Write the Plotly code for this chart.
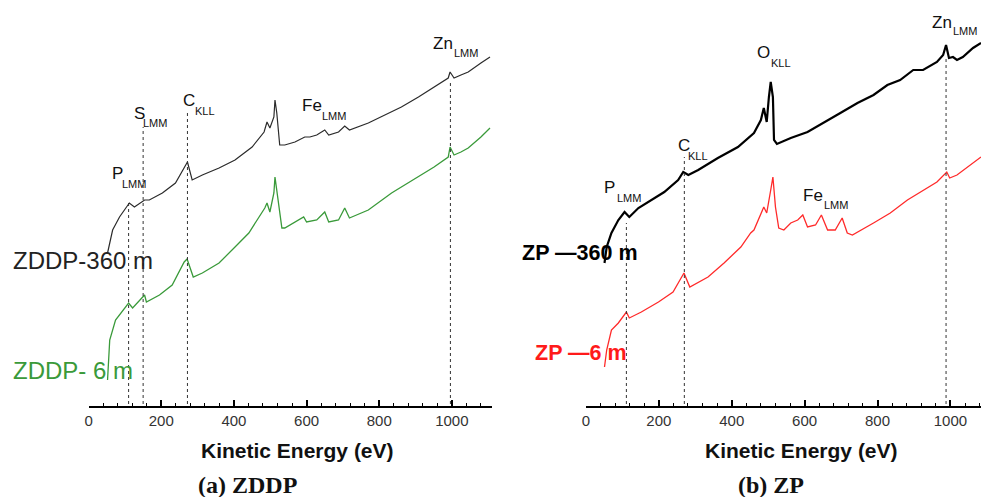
import plotly.graph_objects as go

# ---------------- data (kinetic energy in eV, intensity in arbitrary units) ----------------
zddp360_e = [52, 66, 85, 112, 126, 154, 167, 203, 239, 258, 272, 285, 313, 359, 403, 450, 483, 491, 499,
             510, 513, 518, 526, 540, 568, 595, 609, 628, 650, 661, 688, 705, 718, 770, 814, 861, 908, 951,
             990, 995, 1006, 1025, 1045, 1080, 1105]
zddp360_i = [153, 176, 189, 203, 199, 206, 206, 213, 223, 236, 244, 226, 231, 238, 246, 259, 274, 284, 278,
             289, 306, 293, 261, 261, 264, 269, 269, 271, 276, 271, 274, 280, 276, 283, 291, 299, 309, 319,
             328, 334, 328, 331, 334, 343, 349]

zddp6_e = [52, 55, 58, 74, 110, 121, 154, 159, 195, 230, 263, 271, 288, 313, 359, 403, 441, 485, 491, 499,
           510, 513, 521, 532, 540, 568, 592, 600, 628, 650, 661, 688, 705, 718, 770, 834, 908, 951, 990,
           995, 1006, 1025, 1045, 1080, 1105]
zddp6_i = [26, 44, 66, 86, 103, 98, 111, 104, 111, 121, 144, 147, 129, 133, 143, 159, 173, 198, 203, 194,
           213, 229, 206, 178, 178, 184, 189, 184, 186, 194, 184, 186, 198, 188, 196, 213, 229, 239, 249,
           259, 251, 254, 258, 269, 278]

zp360_e = [51, 57, 70, 89, 106, 119, 144, 180, 215, 253, 267, 281, 308, 362, 417, 461, 480, 488, 496, 502,
           507, 513, 516, 524, 562, 608, 652, 698, 745, 789, 827, 862, 898, 925, 963, 980, 988, 996, 1007,
           1018, 1034, 1062, 1084]
zp360_i = [143, 159, 173, 186, 194, 189, 198, 206, 214, 226, 234, 231, 236, 248, 259, 273, 286, 298, 284, 309,
           324, 309, 266, 262, 268, 274, 283, 293, 303, 311, 321, 326, 336, 336, 344, 351, 361, 348, 349,
           346, 349, 358, 363]

zp6_e = [51, 57, 70, 89, 111, 119, 152, 199, 239, 269, 285, 335, 379, 425, 452, 461, 488, 496, 507, 513, 520,
         529, 543, 562, 581, 595, 608, 630, 646, 663, 684, 703, 717, 731, 789, 835, 882, 925, 963, 990, 998,
         1018, 1045, 1084]
zp6_i = [39, 56, 76, 83, 94, 88, 94, 104, 114, 133, 119, 129, 143, 159, 173, 176, 199, 193, 216, 229, 199,
         178, 176, 183, 186, 191, 179, 181, 191, 176, 176, 188, 173, 171, 183, 193, 206, 216, 224, 234, 228,
         231, 238, 249]

# peak markers: energy and top of dotted line
left_peak_e = [110, 150, 272, 996]
left_peak_top = [203, 279, 296, 326]
right_peak_e = [111, 270, 988]
right_peak_top = [183, 249, 349]

# peak labels: element, transition, (x, y) of element and of subscript
left_labels = [("P", "LMM", 80, 233, 126, 222), ("S", "LMM", 140, 293, 184, 283),
               ("C", "KLL", 277, 306, 321, 295), ("Fe", "LMM", 614, 301, 675, 290),
               ("Zn", "LMM", 976, 363, 1039, 353)]
right_labels = [("P", "LMM", 65, 219, 117, 208), ("C", "KLL", 270, 261, 308, 250),
                ("O", "KLL", 488, 354, 535, 343), ("Fe", "LMM", 622, 211, 685, 201),
                ("Zn", "LMM", 977, 384, 1040, 375)]

tick_vals = [0, 200, 400, 600, 800, 1000]
tick_text = ["0", "200", "400", "600", "800", "1000"]

W, H = 981, 497
AX_Y = 406  # pixel row of the x axis
SANS = "Liberation Sans, Arial, sans-serif"
SERIF = "Liberation Serif, Times New Roman, serif"

fig = go.Figure()

fig.add_trace(go.Scatter(x=zddp360_e, y=zddp360_i, mode="lines", line=dict(color="#2b2b2b", width=1.2),
                         xaxis="x", yaxis="y", showlegend=False))
fig.add_trace(go.Scatter(x=zddp6_e, y=zddp6_i, mode="lines", line=dict(color="#3a9a3a", width=1.3),
                         xaxis="x", yaxis="y", showlegend=False))
fig.add_trace(go.Scatter(x=zp360_e, y=zp360_i, mode="lines", line=dict(color="#000000", width=2.2),
                         xaxis="x2", yaxis="y2", showlegend=False))
fig.add_trace(go.Scatter(x=zp6_e, y=zp6_i, mode="lines", line=dict(color="#ff2a2a", width=1.3),
                         xaxis="x2", yaxis="y2", showlegend=False))

shapes = []
for e, top in zip(left_peak_e, left_peak_top):
    shapes.append(dict(type="line", xref="x", yref="y", x0=e, x1=e, y0=2, y1=top,
                       line=dict(color="#333333", width=1, dash="dot")))
for e, top in zip(right_peak_e, right_peak_top):
    shapes.append(dict(type="line", xref="x2", yref="y2", x0=e, x1=e, y0=2, y1=top,
                       line=dict(color="#333333", width=1, dash="dot")))

annotations = []
for labels, xr, yr in [(left_labels, "x", "y"), (right_labels, "x2", "y2")]:
    for el, sub, xm, ym, xs, ys in labels:
        annotations.append(dict(text=el, x=xm, y=ym, xref=xr, yref=yr, showarrow=False,
                                xanchor="center", yanchor="middle",
                                font=dict(family=SANS, size=17, color="#111111")))
        annotations.append(dict(text=sub, x=xs, y=ys, xref=xr, yref=yr, showarrow=False,
                                xanchor="center", yanchor="middle",
                                font=dict(family=SANS, size=11, color="#111111")))

# series labels
annotations += [
    dict(text="ZDDP-360 m", x=7 / W, y=406 - 260, xref="paper", yref="y", showarrow=False,
         xanchor="left", yanchor="middle", font=dict(family=SANS, size=24, color="#222222")),
    dict(text="ZDDP- 6 m", x=7 / W, y=406 - 370, xref="paper", yref="y", showarrow=False,
         xanchor="left", yanchor="middle", font=dict(family=SANS, size=24, color="#3a9a3a")),
    dict(text="<b>ZP —360 m</b>", x=518 / W, y=406 - 253, xref="paper", yref="y2", showarrow=False,
         xanchor="left", yanchor="middle", font=dict(family=SANS, size=21.5, color="#000000")),
    dict(text="<b>ZP —6 m</b>", x=531 / W, y=406 - 353, xref="paper", yref="y2", showarrow=False,
         xanchor="left", yanchor="middle", font=dict(family=SANS, size=21.5, color="#ff1a1a")),
]

# axis titles and captions
for cx in [295, 801]:
    annotations.append(dict(text="<b>Kinetic Energy (eV)</b>", x=cx / W, y=(H - 450) / H,
                            xref="paper", yref="paper", showarrow=False, xanchor="center",
                            yanchor="middle", font=dict(family=SANS, size=21, color="#111111")))
for cx, cap in [(244, "(a) ZDDP"), (770, "(b) ZP")]:
    annotations.append(dict(text="<b>" + cap + "</b>", x=cx / W, y=(H - 485) / H,
                            xref="paper", yref="paper", showarrow=False, xanchor="center",
                            yanchor="middle", font=dict(family=SERIF, size=24, color="#111111")))

xaxis_common = dict(showline=True, linecolor="black", linewidth=2, showgrid=False, zeroline=False,
                    ticks="inside", ticklen=6, tickwidth=1.5, tickcolor="black",
                    tickvals=tick_vals, ticktext=tick_text,
                    tickfont=dict(family=SANS, size=15, color="#333333"),
                    minor=dict(ticks="inside", ticklen=3, tickwidth=1.2, tickcolor="black", dtick=40, tick0=0),
                    fixedrange=True)
yaxis_common = dict(visible=False, range=[0, AX_Y], domain=[(H - AX_Y) / H, 1], fixedrange=True)

fig.update_layout(
    width=W, height=H, margin=dict(l=0, r=0, t=0, b=0),
    paper_bgcolor="white", plot_bgcolor="white",
    xaxis=dict(domain=[85 / W, 490 / W], range=[0, (490 - 85) / 0.3647], anchor="y", **xaxis_common),
    yaxis=dict(anchor="x", **yaxis_common),
    xaxis2=dict(domain=[584.3 / W, 1], range=[0, (981 - 584.3) / 0.366], anchor="y2", **xaxis_common),
    yaxis2=dict(anchor="x2", **yaxis_common),
    shapes=shapes, annotations=annotations,
)

fig.write_html("out.html")
